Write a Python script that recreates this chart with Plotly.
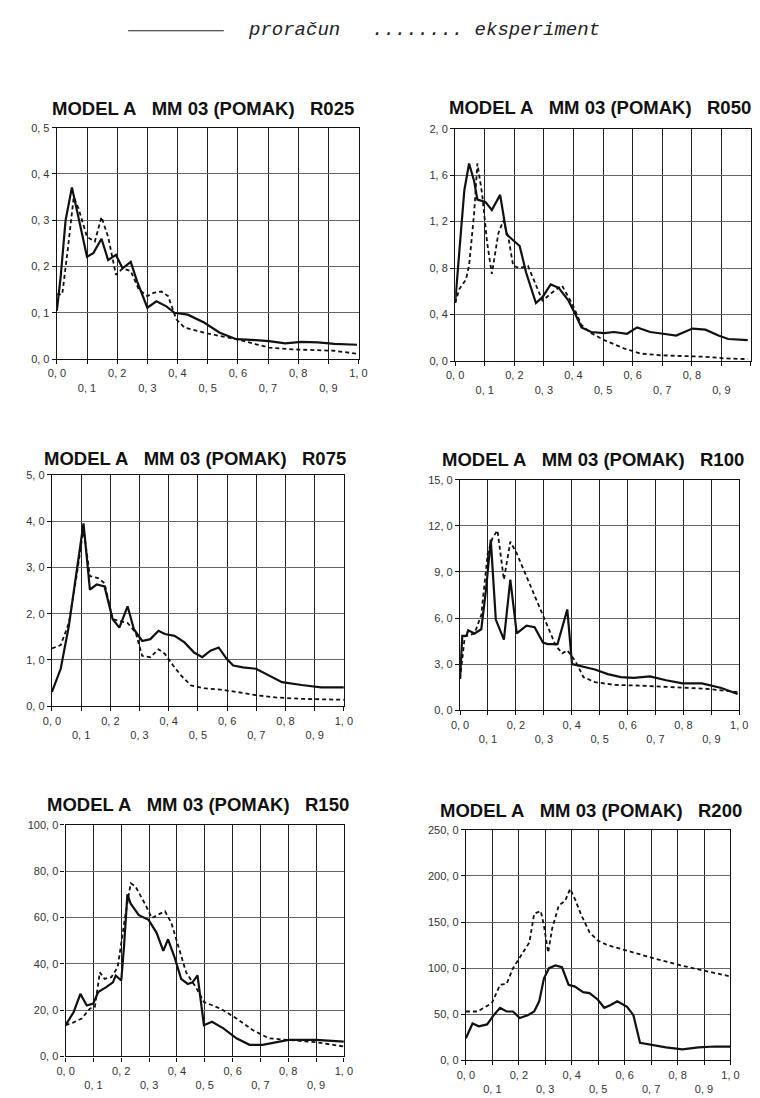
import plotly.graph_objects as go

W, H = 760, 1098

# ---------------- data ----------------
titles = ["R025", "R050", "R075", "R100", "R150", "R200"]

x_r025_calc = [0.0, 0.013, 0.029, 0.05, 0.1, 0.121, 0.148, 0.17, 0.196, 0.218, 0.245, 0.266, 0.3, 0.33, 0.363, 0.39, 0.434, 0.488, 0.54, 0.595, 0.66, 0.703, 0.757, 0.81, 0.865, 0.92, 0.995]
y_r025_calc = [0.104, 0.18, 0.30, 0.371, 0.221, 0.229, 0.26, 0.214, 0.225, 0.196, 0.21, 0.168, 0.111, 0.125, 0.114, 0.10, 0.096, 0.079, 0.057, 0.043, 0.041, 0.039, 0.034, 0.037, 0.036, 0.033, 0.031]
x_r025_exp = [0.0, 0.018, 0.035, 0.056, 0.072, 0.1, 0.126, 0.148, 0.17, 0.196, 0.218, 0.245, 0.272, 0.3, 0.32, 0.347, 0.369, 0.396, 0.423, 0.488, 0.54, 0.595, 0.66, 0.703, 0.78, 0.865, 0.92, 1.0]
y_r025_exp = [0.14, 0.14, 0.23, 0.35, 0.325, 0.264, 0.254, 0.307, 0.264, 0.182, 0.196, 0.19, 0.15, 0.136, 0.143, 0.146, 0.136, 0.086, 0.068, 0.057, 0.05, 0.043, 0.032, 0.025, 0.021, 0.02, 0.018, 0.011]

x_r050_calc = [0.0, 0.009, 0.02, 0.031, 0.047, 0.064, 0.075, 0.102, 0.124, 0.152, 0.174, 0.196, 0.218, 0.24, 0.273, 0.295, 0.323, 0.35, 0.383, 0.405, 0.427, 0.46, 0.504, 0.537, 0.581, 0.615, 0.659, 0.703, 0.747, 0.802, 0.846, 0.89, 0.923, 0.989]
y_r050_calc = [0.5, 0.82, 1.13, 1.47, 1.70, 1.55, 1.39, 1.37, 1.30, 1.43, 1.09, 1.04, 0.99, 0.76, 0.50, 0.55, 0.66, 0.63, 0.52, 0.41, 0.29, 0.25, 0.24, 0.25, 0.235, 0.29, 0.25, 0.235, 0.22, 0.28, 0.27, 0.22, 0.19, 0.18]
x_r050_exp = [0.0, 0.014, 0.036, 0.047, 0.064, 0.075, 0.091, 0.108, 0.124, 0.146, 0.163, 0.18, 0.196, 0.218, 0.246, 0.273, 0.295, 0.328, 0.361, 0.394, 0.427, 0.46, 0.504, 0.57, 0.626, 0.692, 0.79, 0.846, 0.912, 0.989]
y_r050_exp = [0.5, 0.62, 0.70, 0.82, 1.27, 1.70, 1.44, 1.02, 0.75, 1.10, 1.21, 1.06, 0.82, 0.80, 0.82, 0.66, 0.52, 0.59, 0.65, 0.50, 0.31, 0.24, 0.18, 0.11, 0.065, 0.05, 0.043, 0.037, 0.023, 0.017]

x_r075_calc = [0.0, 0.03, 0.058, 0.08, 0.108, 0.13, 0.153, 0.18, 0.208, 0.231, 0.259, 0.281, 0.309, 0.337, 0.365, 0.387, 0.42, 0.454, 0.487, 0.515, 0.543, 0.571, 0.599, 0.621, 0.654, 0.699, 0.744, 0.788, 0.855, 0.922, 1.0]
y_r075_calc = [0.31, 0.81, 1.74, 2.74, 3.95, 2.52, 2.63, 2.59, 1.88, 1.70, 2.16, 1.66, 1.41, 1.45, 1.63, 1.56, 1.52, 1.38, 1.16, 1.06, 1.20, 1.27, 1.02, 0.88, 0.84, 0.81, 0.66, 0.52, 0.46, 0.41, 0.41]
x_r075_exp = [0.0, 0.03, 0.058, 0.086, 0.108, 0.13, 0.158, 0.18, 0.208, 0.231, 0.259, 0.287, 0.309, 0.337, 0.365, 0.387, 0.415, 0.443, 0.476, 0.521, 0.577, 0.632, 0.699, 0.766, 0.855, 1.0]
y_r075_exp = [1.25, 1.32, 1.80, 2.88, 3.84, 2.81, 2.77, 2.66, 1.88, 1.84, 1.80, 1.59, 1.09, 1.06, 1.23, 1.13, 0.88, 0.66, 0.45, 0.39, 0.36, 0.31, 0.24, 0.19, 0.16, 0.14]

x_r100_calc = [0.0, 0.008, 0.023, 0.029, 0.052, 0.076, 0.093, 0.11, 0.128, 0.157, 0.18, 0.203, 0.238, 0.267, 0.297, 0.314, 0.349, 0.384, 0.401, 0.442, 0.483, 0.529, 0.576, 0.622, 0.68, 0.738, 0.797, 0.866, 0.936, 0.994]
y_r100_calc = [2.04, 4.84, 4.84, 5.2, 5.0, 5.27, 7.85, 11.1, 5.9, 4.6, 8.5, 5.0, 5.5, 5.4, 4.4, 4.3, 4.3, 6.56, 3.0, 2.85, 2.65, 2.35, 2.15, 2.1, 2.2, 1.95, 1.75, 1.75, 1.45, 1.05]
x_r100_exp = [0.0, 0.017, 0.052, 0.076, 0.099, 0.116, 0.134, 0.157, 0.18, 0.203, 0.238, 0.273, 0.308, 0.343, 0.366, 0.384, 0.413, 0.442, 0.483, 0.552, 0.645, 0.762, 0.878, 0.994]
y_r100_exp = [2.04, 4.8, 5.0, 6.2, 10.2, 11.2, 11.7, 8.5, 10.97, 10.2, 8.7, 7.2, 5.7, 4.2, 3.7, 3.9, 3.2, 2.15, 1.83, 1.65, 1.6, 1.5, 1.4, 1.18]

x_r150_calc = [0.0, 0.029, 0.053, 0.076, 0.099, 0.117, 0.146, 0.17, 0.18, 0.2, 0.21, 0.222, 0.234, 0.263, 0.298, 0.327, 0.351, 0.368, 0.392, 0.415, 0.439, 0.456, 0.474, 0.497, 0.526, 0.567, 0.614, 0.661, 0.708, 0.801, 0.9, 1.0]
y_r150_calc = [13.5, 19.2, 27.0, 22.0, 22.8, 27.8, 29.9, 32.0, 34.9, 32.8, 47.7, 70.0, 66.0, 61.0, 59.0, 53.4, 45.6, 50.6, 42.7, 33.5, 31.3, 32.0, 35.0, 13.5, 15.0, 12.1, 7.8, 5.0, 5.0, 7.1, 7.1, 6.4]
x_r150_exp = [0.0, 0.029, 0.058, 0.088, 0.105, 0.123, 0.14, 0.164, 0.187, 0.205, 0.216, 0.234, 0.251, 0.287, 0.31, 0.333, 0.357, 0.38, 0.404, 0.433, 0.468, 0.497, 0.556, 0.614, 0.672, 0.731, 0.801, 0.9, 1.0]
y_r150_exp = [13.5, 14.7, 16.4, 20.7, 21.4, 36.3, 33.5, 34.2, 38.5, 53.4, 62.0, 74.8, 73.4, 65.5, 59.8, 61.3, 62.7, 57.7, 48.4, 36.3, 29.9, 23.5, 20.7, 16.4, 11.4, 7.8, 7.1, 6.1, 4.3]

x_r200_calc = [0.0, 0.025, 0.049, 0.08, 0.105, 0.129, 0.154, 0.178, 0.203, 0.234, 0.258, 0.277, 0.295, 0.314, 0.338, 0.363, 0.388, 0.412, 0.443, 0.467, 0.498, 0.523, 0.547, 0.572, 0.609, 0.633, 0.658, 0.695, 0.756, 0.818, 0.879, 0.941, 1.0]
y_r200_calc = [24, 40, 37, 39, 49, 57, 53, 53, 46, 49, 53, 64, 89, 100, 103, 101, 82, 80, 74, 73, 66, 57, 60, 64, 58, 49, 19, 17, 14, 12, 14, 15, 15]
x_r200_exp = [0.0, 0.043, 0.068, 0.098, 0.129, 0.154, 0.178, 0.209, 0.24, 0.258, 0.283, 0.295, 0.311, 0.326, 0.351, 0.375, 0.394, 0.412, 0.437, 0.467, 0.498, 0.535, 0.609, 0.719, 0.842, 1.0]
y_r200_exp = [53, 53, 57, 62, 82, 83, 100, 114, 128, 159, 162, 146, 117, 143, 168, 173, 186, 175, 157, 139, 130, 125, 119, 110, 101, 91]

y_tick_vals = [
    [0.0, 0.1, 0.2, 0.3, 0.4, 0.5],
    [0.0, 0.4, 0.8, 1.2, 1.6, 2.0],
    [0.0, 1.0, 2.0, 3.0, 4.0, 5.0],
    [0.0, 3.0, 6.0, 9.0, 12.0, 15.0],
    [0.0, 20.0, 40.0, 60.0, 80.0, 100.0],
    [0.0, 50.0, 100.0, 150.0, 200.0, 250.0],
]
x_tick_vals = [i / 10 for i in range(11)]
legend_calc = "proračun"
legend_exp = "........ eksperiment"

calc_x = [x_r025_calc, x_r050_calc, x_r075_calc, x_r100_calc, x_r150_calc, x_r200_calc]
calc_y = [y_r025_calc, y_r050_calc, y_r075_calc, y_r100_calc, y_r150_calc, y_r200_calc]
exp_x = [x_r025_exp, x_r050_exp, x_r075_exp, x_r100_exp, x_r150_exp, x_r200_exp]
exp_y = [y_r025_exp, y_r050_exp, y_r075_exp, y_r100_exp, y_r150_exp, y_r200_exp]

# ---------------- layout (pixel boxes of each plot area) ----------------
boxes = [  # left, right, top, bottom in page pixels
    (49, 358, 123, 357),
    (457, 760, 124, 359),
    (44, 343, 474, 708),
    (462, 748, 479, 712),
    (58, 343, 828, 1062),
    (468, 739, 833, 1066),
]
title_pos = [(199, 104), (605, 103), (190, 457), (598, 459), (194, 807), (596, 813)]


def fmt(v):
    return f"{v:.1f}".replace(".", ", ")


fig = go.Figure()
layout = dict(
    width=W, height=H, margin=dict(l=0, r=0, t=0, b=0),
    paper_bgcolor="white", plot_bgcolor="white", showlegend=False,
    font=dict(family="Liberation Sans, Arial, sans-serif", color="#222"),
)
annotations = []
shapes = []

for i in range(6):
    n = "" if i == 0 else str(i + 1)
    xa, ya = "x" + n, "y" + n
    fig.add_trace(go.Scatter(x=exp_x[i], y=exp_y[i], mode="lines", xaxis=xa, yaxis=ya,
                             line=dict(color="#111", width=1.8, dash="4px,3px")))
    fig.add_trace(go.Scatter(x=calc_x[i], y=calc_y[i], mode="lines", xaxis=xa, yaxis=ya,
                             line=dict(color="#111", width=2.2)))
    l, r, t, b = boxes[i]
    xt = []
    for k, v in enumerate(x_tick_vals):
        lab = fmt(v)
        xt.append(lab if k % 2 == 0 else " <br>" + lab)
    layout["xaxis" + n] = dict(
        domain=[l / W, r / W], anchor=ya, range=[0, 1], tickmode="array",
        tickvals=x_tick_vals, ticktext=xt, showgrid=True, gridcolor="#222", gridwidth=1.3,
        showline=True, linecolor="#111", linewidth=1.3, mirror=True, ticks="outside",
        ticklen=4, tickcolor="#111", tickfont=dict(size=11, color="#333"), zeroline=False,
        fixedrange=True,
    )
    yv = y_tick_vals[i]
    layout["yaxis" + n] = dict(
        domain=[1 - b / H, 1 - t / H], anchor=xa, range=[yv[0], yv[-1]], tickmode="array",
        tickvals=yv, ticktext=[fmt(v) for v in yv], showgrid=True, gridcolor="#666",
        gridwidth=1, showline=True, linecolor="#111", linewidth=1.3, mirror=True,
        ticks="outside", ticklen=4, tickcolor="#111", tickfont=dict(size=11, color="#333"),
        zeroline=False, fixedrange=True,
    )
    tx, ty = title_pos[i]
    annotations.append(dict(
        x=tx / W, y=1 - ty / H, xref="paper", yref="paper", xanchor="center", yanchor="middle",
        showarrow=False,
        text="<b>MODEL A\u00a0\u00a0 MM 03 (POMAK)\u00a0\u00a0 " + titles[i] + "</b>",
        font=dict(size=18.5, color="#111", family="Liberation Sans, Arial, sans-serif"),
    ))

# legend at top of page
shapes.append(dict(type="line", xref="paper", yref="paper", x0=122 / W, x1=220 / W,
                   y0=1 - 25 / H, y1=1 - 25 / H, line=dict(color="#222", width=1.2)))
annotations.append(dict(x=243 / W, y=1 - 24 / H, xref="paper", yref="paper", xanchor="left",
                        yanchor="middle", showarrow=False, text="<i>" + legend_calc + "</i>",
                        font=dict(size=19, color="#222", family="Liberation Mono, Courier New, monospace")))
annotations.append(dict(x=370 / W, y=1 - 24 / H, xref="paper", yref="paper", xanchor="left",
                        yanchor="middle", showarrow=False, text="<i>" + legend_exp + "</i>",
                        font=dict(size=19, color="#222", family="Liberation Mono, Courier New, monospace")))

layout["annotations"] = annotations
layout["shapes"] = shapes
fig.update_layout(**layout)
fig.write_html("out.html")
